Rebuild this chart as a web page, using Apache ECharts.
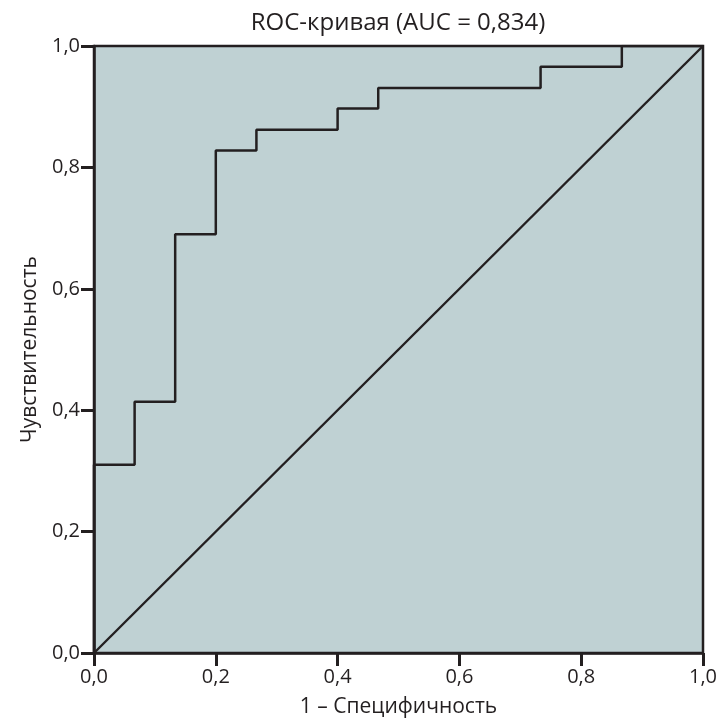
<!DOCTYPE html>
<html>
<head>
<meta charset="utf-8">
<script src="https://cdn.jsdelivr.net/npm/echarts@6/dist/echarts.min.js"></script>
<style>
html,body{margin:0;padding:0;background:#fff;}
#chart{width:718px;height:720px;}
</style>
</head>
<body>
<div id="chart"></div>
<script>
// ROC curve data (1 - specificity, sensitivity)
var fpr = [0, 0, 0.0667, 0.1333, 0.2, 0.2667, 0.4, 0.4667, 0.7333, 0.8667, 1.0];
var tpr = [0, 0.310, 0.414, 0.690, 0.828, 0.862, 0.897, 0.931, 0.966, 1.0, 1.0];
var refX = [0, 1];
var refY = [0, 1];
var tickValues = [0, 0.2, 0.4, 0.6, 0.8, 1.0];
var titleText = 'ROC-кривая (AUC = 0,834)';
var xName = '1 – Специфичность';
var yName = 'Чувствительность';

var font = '"Open Sans", "Noto Sans", sans-serif';
var dark = '#231f20';
function fmt(v){ return v.toFixed(1).replace('.', ','); }

var chart = echarts.init(document.getElementById('chart'), null, {renderer:'canvas'});
chart.setOption({
  animation: false,
  title: {
    text: titleText, left: 393, top: 6, textAlign: 'center',
    textStyle: {fontFamily: font, fontSize: 24, fontWeight: 'normal', color: dark}
  },
  grid: {
    left: 94, right: 15, top: 46, bottom: 67,
    outerBoundsMode: 'none',
    show: true, backgroundColor: '#bfd1d3', borderColor: dark, borderWidth: 2.5
  },
  xAxis: {
    type: 'value', min: 0, max: 1, interval: 0.2,
    name: xName, nameLocation: 'middle', nameGap: 44,
    nameTextStyle: {fontFamily: font, fontSize: 21, color: dark},
    axisLine: {show: true, lineStyle: {color: dark, width: 2.5}},
    axisTick: {show: true, inside: false, length: 13, lineStyle: {color: dark, width: 3}},
    axisLabel: {fontFamily: font, fontSize: 20, color: dark, margin: 14, formatter: fmt},
    splitLine: {show: false}
  },
  yAxis: {
    type: 'value', min: 0, max: 1, interval: 0.2,
    name: yName, nameLocation: 'middle', nameGap: 53,
    nameTextStyle: {fontFamily: font, fontSize: 21, color: dark},
    axisLine: {show: true, lineStyle: {color: dark, width: 2.5}},
    axisTick: {show: true, inside: false, length: 13, lineStyle: {color: dark, width: 3}},
    axisLabel: {fontFamily: font, fontSize: 20, color: dark, margin: 14, formatter: fmt},
    splitLine: {show: false}
  },
  series: [
    {
      type: 'line', step: 'end', symbol: 'none',
      data: fpr.map(function(x, i){ return [x, tpr[i]]; }),
      lineStyle: {color: dark, width: 2.5}
    },
    {
      type: 'line', symbol: 'none',
      data: refX.map(function(x, i){ return [x, refY[i]]; }),
      lineStyle: {color: dark, width: 2.4}
    }
  ]
});
</script>
</body>
</html>
